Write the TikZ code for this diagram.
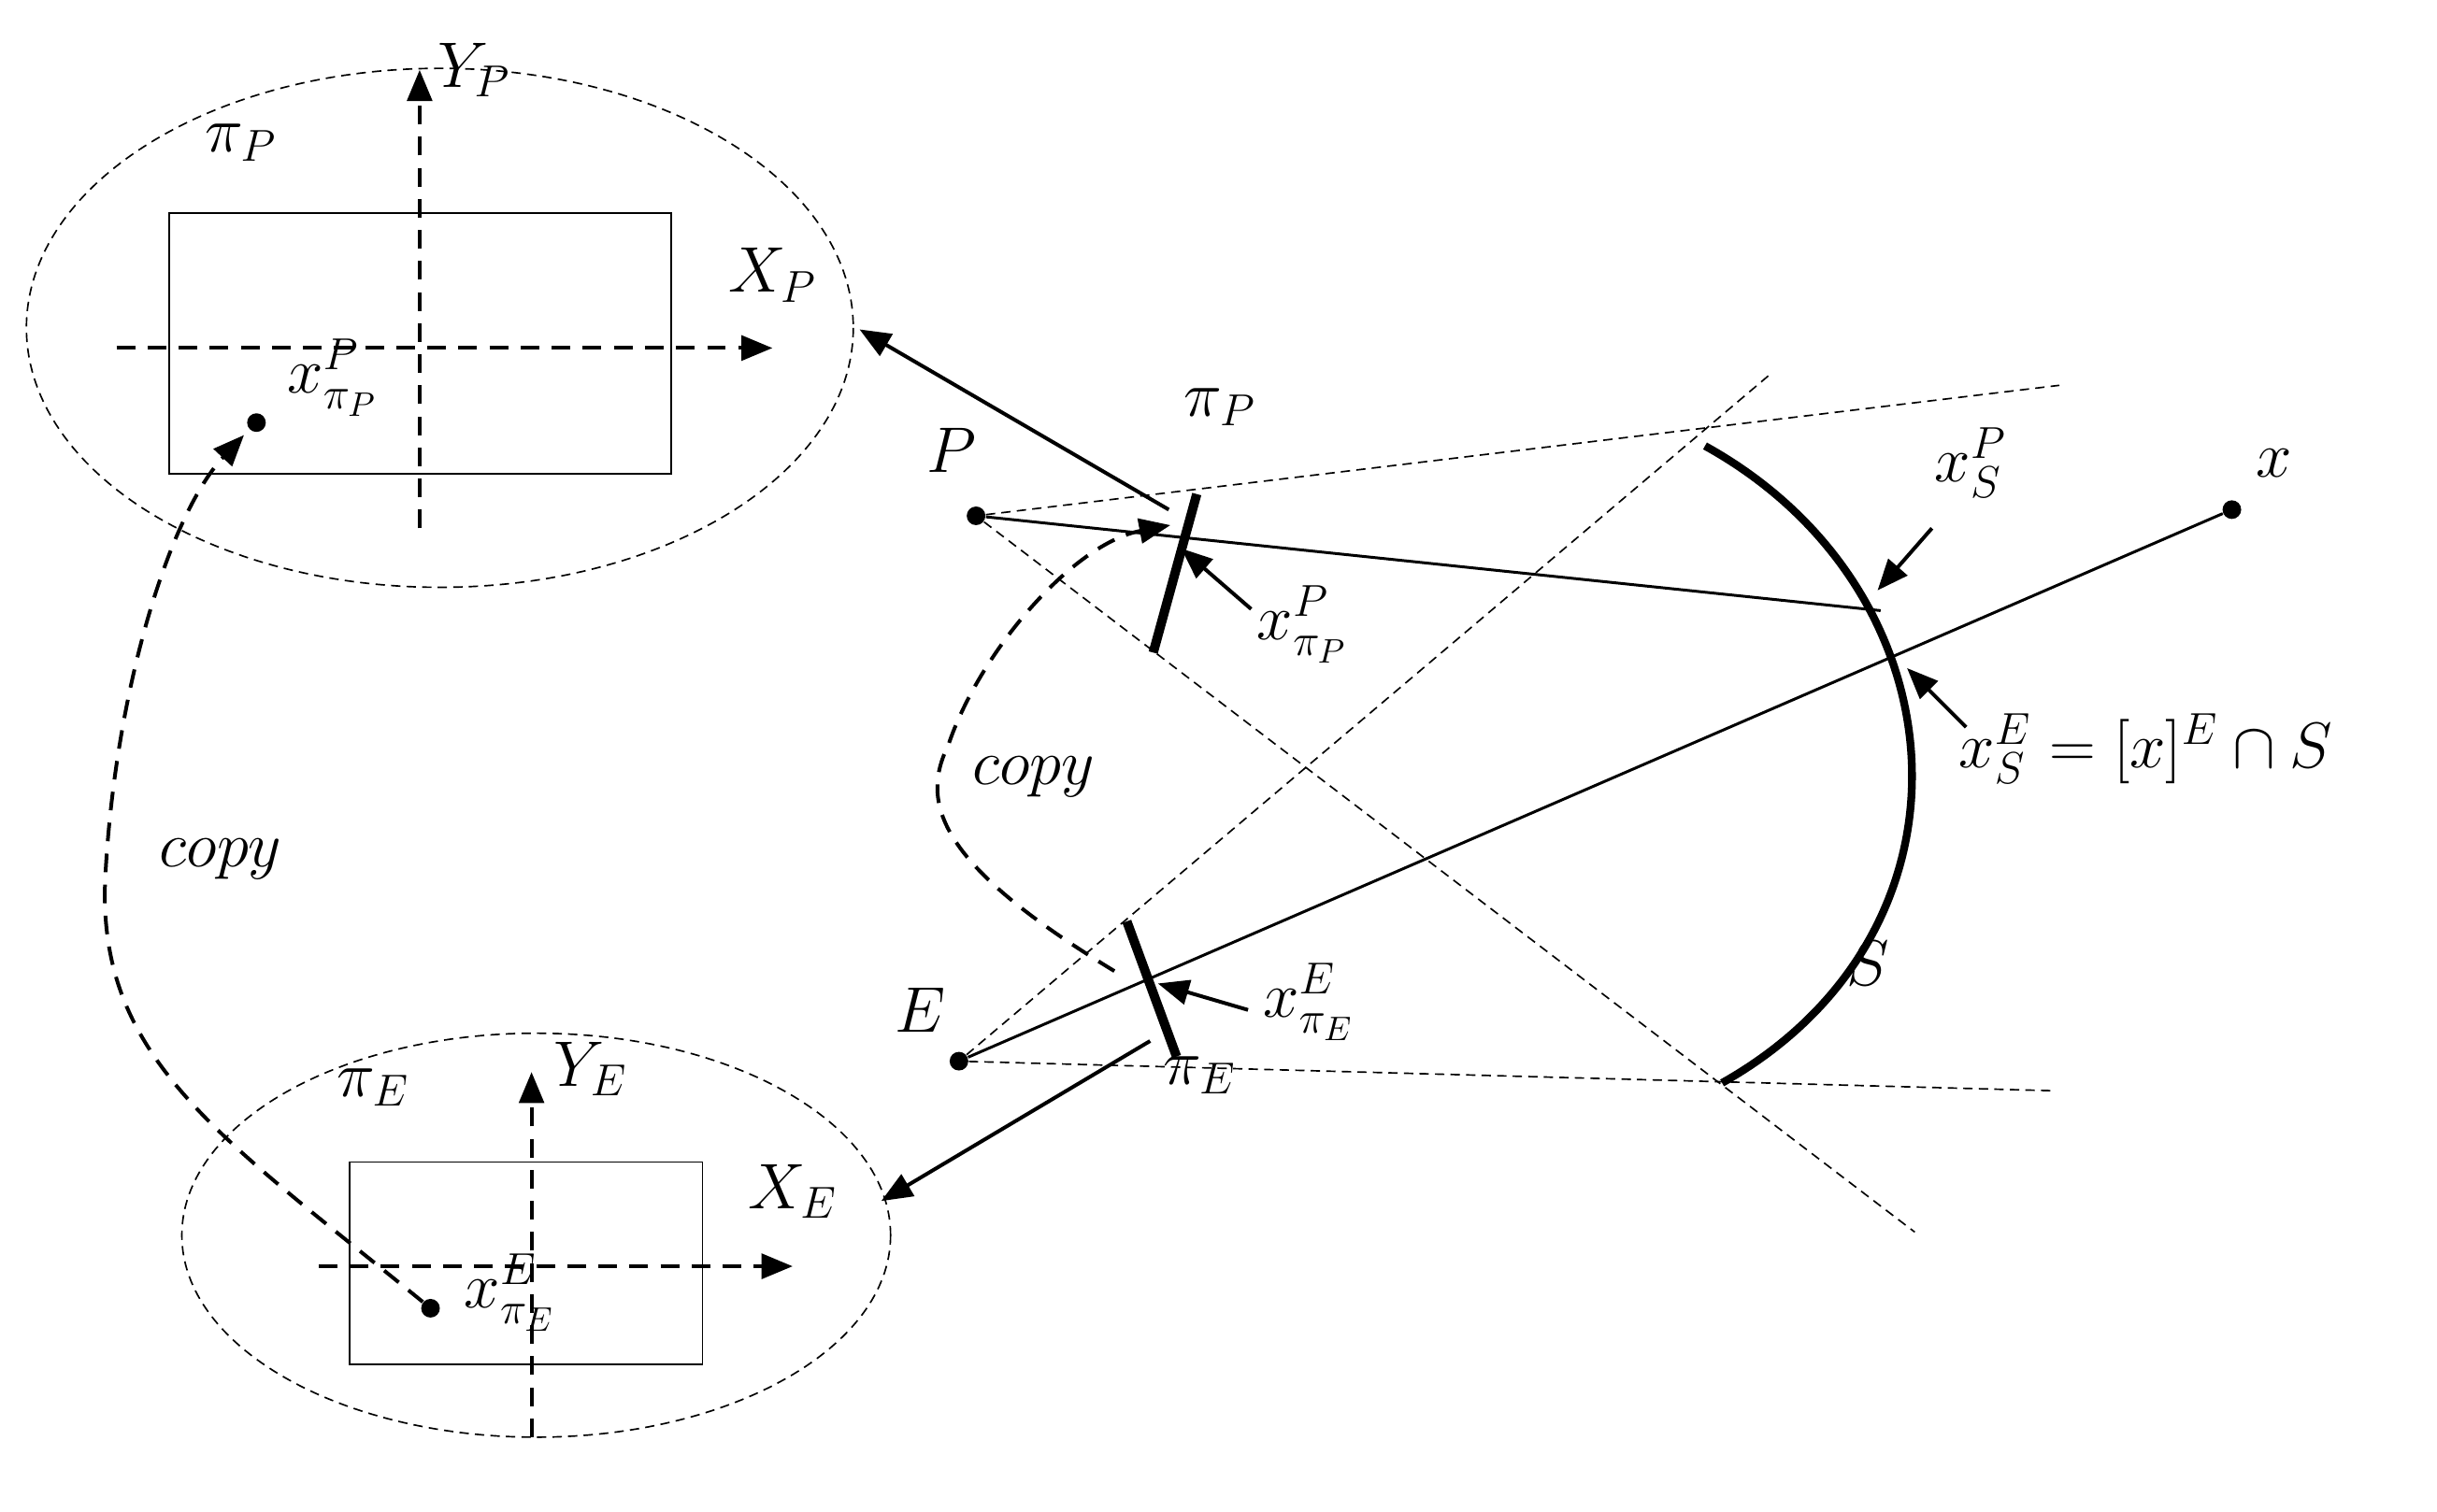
\documentclass[tikz,border=0pt]{standalone}
\usetikzlibrary{arrows.meta}
\begin{document}
\begin{tikzpicture}[x=0.5pt,y=-0.5pt,
  lbl/.style={font=\fontsize{22}{26}\selectfont,inner sep=1pt},
  thin dash/.style={dashed,line width=0.5pt,dash pattern=on 3pt off 2pt},
  axis/.style={dashed,line width=1.2pt,dash pattern=on 6pt off 4pt,-{Triangle[length=10pt,width=8pt]}},
  arr/.style={line width=1.2pt,-{Triangle[length=10pt,width=8pt]}},
  dot/.style={circle,fill,inner sep=0pt,minimum size=6pt}]
\useasboundingbox (0,0) rectangle (1568,973);
% top ellipse
\draw[thin dash] (283,211) ellipse [x radius=266,y radius=167];
\draw[line width=0.5pt] (109,137) rectangle (432,305);
\draw[axis] (270,340) -- (270,45);
\draw[axis] (75,224) -- (497,224);
\node[lbl] at (305,45) {$Y_P$};
\node[lbl] at (155,92) {$\pi_P$};
\node[lbl] at (497,177) {$X_P$};
\node[dot] (xpp) at (165,272) {};
\node[lbl] at (214,243) {$x^P_{\pi_P}$};
% bottom ellipse
\draw[thin dash] (345,795) ellipse [x radius=228,y radius=130];
\draw[line width=0.5pt] (225,748) rectangle (452,878);
\draw[axis] (342,925) -- (342,690);
\draw[axis] (205,815) -- (510,815);
\node[lbl] at (380,688) {$Y_E$};
\node[lbl] at (240,700) {$\pi_E$};
\node[lbl] at (510,767) {$X_E$};
\node[dot] (xee) at (277,842) {};
\node[lbl] at (328,832) {$x^E_{\pi_E}$};
% points
\node[dot] (P) at (628,332) {};
\node[lbl] at (612,290) {$P$};
\node[dot] (E) at (617,683) {};
\node[lbl] at (592,650) {$E$};
\node[dot] (X) at (1436,328) {};
\node[lbl] at (1463,298) {$x$};
% dashed rays
\coordinate (a1) at (1325,248);
\coordinate (a2) at (1232,793);
\coordinate (a3) at (1140,240);
\coordinate (a4) at (1320,702);
\draw[thin dash] (P) -- (a1);
\draw[thin dash] (P) -- (a2);
\draw[thin dash] (E) -- (a3);
\draw[thin dash] (E) -- (a4);
% rays
\coordinate (sp) at (1210,393);
\draw[line width=0.9pt] (P) -- (sp);
\draw[line width=0.9pt] (E) -- (X);
% image planes
\draw[line width=3pt] (770,318) -- (742,420);
\draw[line width=3pt] (725,593) -- (757,680);
\node[lbl] at (785,262) {$\pi_P$};
\node[lbl] at (772,692) {$\pi_E$};
% arc S
\draw[line width=2.5pt] (1097,287) .. controls (1265,380) and (1280,600) .. (1108,697);
\node[lbl] at (1202,620) {$S$};
% projections
\coordinate (b1) at (752,328); \coordinate (b2) at (553,212);
\draw[arr] (b1) -- (b2);
\coordinate (c1) at (740,670); \coordinate (c2) at (567,773);
\draw[arr] (c1) -- (c2);
% labels with arrows
\node[lbl] (lsp) at (1268,298) {$x^P_S$};
\coordinate (d1) at (1243,340); \coordinate (d2) at (1208,380);
\draw[arr] (d1) -- (d2);
\node[lbl,anchor=west] (lse) at (1258,482) {$x^E_S=[x]^E\cap S$};
\coordinate (e1) at (1265,468); \coordinate (e2) at (1227,430);
\draw[arr] (e1) -- (e2);
\node[lbl] at (838,402) {$x^P_{\pi_P}$};
\coordinate (f1) at (805,392); \coordinate (f2) at (760,353);
\draw[arr] (f1) -- (f2);
\node[lbl] at (842,645) {$x^E_{\pi_E}$};
\coordinate (g1) at (803,650); \coordinate (g2) at (745,633);
\draw[arr] (g1) -- (g2);
% copy curves
\coordinate (h1) at (717,625); \coordinate (h2) at (753,338);
\draw[axis] (h1) .. controls (610,560) and (590,520) .. (610,480) .. controls (630,420) and (690,350) .. (h2);
\node[lbl] at (665,500) {$copy$};
\draw[axis] (xee) .. controls (140,730) and (60,680) .. (68,560) .. controls (75,440) and (110,330) .. (157,280);
\node[lbl] at (142,553) {$copy$};
\end{tikzpicture}
\end{document}
